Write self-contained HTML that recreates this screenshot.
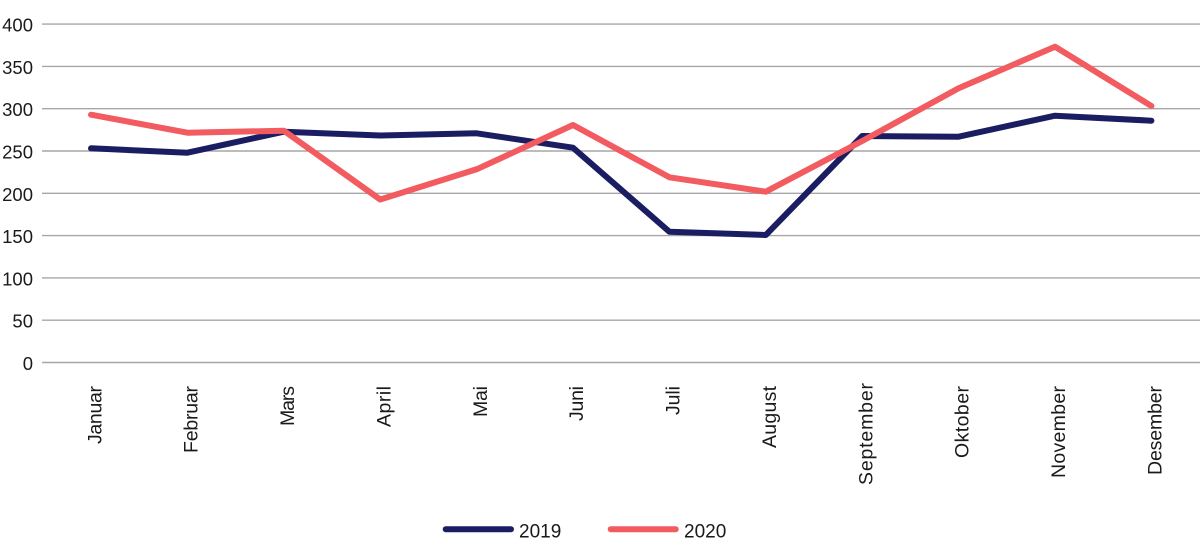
<!DOCTYPE html>
<html>
<head>
<meta charset="utf-8">
<style>
  html, body { margin: 0; padding: 0; background: #ffffff; }
  svg { display: block; }
  text { font-family: "Liberation Sans", sans-serif; fill: #1a1a1a; }
</style>
</head>
<body>
<svg width="1200" height="558" viewBox="0 0 1200 558" xmlns="http://www.w3.org/2000/svg">
  <!-- gridlines -->
  <g stroke="#a6a6a6" stroke-width="1.4">
    <line x1="42" y1="24.1" x2="1200" y2="24.1"/>
    <line x1="42" y1="66.4" x2="1200" y2="66.4"/>
    <line x1="42" y1="108.7" x2="1200" y2="108.7"/>
    <line x1="42" y1="151" x2="1200" y2="151"/>
    <line x1="42" y1="193.3" x2="1200" y2="193.3"/>
    <line x1="42" y1="235.6" x2="1200" y2="235.6"/>
    <line x1="42" y1="277.9" x2="1200" y2="277.9"/>
    <line x1="42" y1="320.2" x2="1200" y2="320.2"/>
    <line x1="42" y1="362.5" x2="1200" y2="362.5"/>
  </g>
  <!-- y labels -->
  <g font-size="18.5" text-anchor="end">
    <text x="33" y="31.6">400</text>
    <text x="33" y="73.9">350</text>
    <text x="33" y="116.2">300</text>
    <text x="33" y="158.5">250</text>
    <text x="33" y="200.8">200</text>
    <text x="33" y="243.1">150</text>
    <text x="33" y="285.4">100</text>
    <text x="33" y="327.7">50</text>
    <text x="33" y="370">0</text>
  </g>
  <!-- x labels -->
  <g font-size="19.5" text-anchor="end">
    <text transform="translate(101.5,386) rotate(-90)" textLength="58">Januar</text>
    <text transform="translate(197.5,386) rotate(-90)" textLength="67">Februar</text>
    <text transform="translate(294,386) rotate(-90)" textLength="40">Mars</text>
    <text transform="translate(390.5,386) rotate(-90)" textLength="41">April</text>
    <text transform="translate(487,386) rotate(-90)" textLength="31">Mai</text>
    <text transform="translate(583,386) rotate(-90)" textLength="35">Juni</text>
    <text transform="translate(679.5,386) rotate(-90)" textLength="29">Juli</text>
    <text transform="translate(776,386) rotate(-90)" textLength="62">August</text>
    <text transform="translate(872.5,383) rotate(-90)" textLength="102">September</text>
    <text transform="translate(968.5,386) rotate(-90)" textLength="72">Oktober</text>
    <text transform="translate(1065,386) rotate(-90)" textLength="92">November</text>
    <text transform="translate(1161.5,386) rotate(-90)" textLength="89">Desember</text>
  </g>
  <!-- series 2019 -->
  <polyline fill="none" stroke="#1b1d62" stroke-width="6" stroke-linejoin="round" stroke-linecap="round"
    points="91,148.3 187.4,152.7 283.8,131.7 380.2,135.5 476.6,133.3 573,147.7 669.4,231.7 765.8,235 862.2,136 958.6,136.7 1055,115.7 1151.4,120.7"/>
  <!-- series 2020 -->
  <polyline fill="none" stroke="#f25b60" stroke-width="6" stroke-linejoin="round" stroke-linecap="round"
    points="91,114.7 187.4,132.7 283.8,130.7 380.2,199.5 476.6,169.3 573,125 669.4,177.3 765.8,191.7 862.2,141 958.6,88.3 1055,46.7 1151.4,106"/>
  <!-- legend -->
  <line x1="445.7" y1="529.3" x2="511" y2="529.3" stroke="#1b1d62" stroke-width="6" stroke-linecap="round"/>
  <text x="519" y="537.7" font-size="19">2019</text>
  <line x1="610.7" y1="529.3" x2="675.7" y2="529.3" stroke="#f25b60" stroke-width="6" stroke-linecap="round"/>
  <text x="684" y="537.7" font-size="19">2020</text>
</svg>
</body>
</html>
